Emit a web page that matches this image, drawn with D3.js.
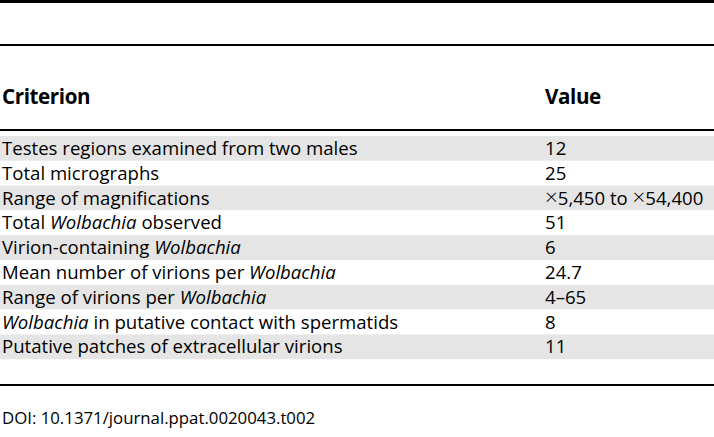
<!DOCTYPE html>
<html>
<head>
<meta charset="utf-8">
<script src="https://cdn.jsdelivr.net/npm/d3@7"></script>
<style>
  html, body { margin: 0; padding: 0; background: #fff; }
  svg { display: block; }
</style>
</head>
<body>
<svg id="chart" width="714" height="437"></svg>
<script>
// ---- data ----
const headers = ["Criterion", "Value"];
const criteria = [
  "Testes regions examined from two males",
  "Total micrographs",
  "Range of magnifications",
  "Total *Wolbachia* observed",
  "Virion-containing *Wolbachia*",
  "Mean number of virions per *Wolbachia*",
  "Range of virions per *Wolbachia*",
  "*Wolbachia* in putative contact with spermatids",
  "Putative patches of extracellular virions"
];
const values = ["12", "25", "\u00D75,450 to \u00D754,400", "51", "6", "24.7", "4\u201365", "8", "11"];
const footnote = "DOI: 10.1371/journal.ppat.0020043.t002";

// ---- layout ----
const W = 714;
const fontFam = "'Open Sans', sans-serif";
const fs = 18.6;
const fsHead = 20.6;
const fsFoot = 16.8;
const rowTop = 136, rowH = 24.8;
const colX = [2, 545];

const svg = d3.select("#chart");

const y = d3.scaleBand()
  .domain(d3.range(criteria.length))
  .range([rowTop, rowTop + rowH * criteria.length])
  .padding(0);

// row backgrounds
svg.append("g").selectAll("rect")
  .data(criteria)
  .join("rect")
  .attr("x", 0)
  .attr("y", (d, i) => y(i))
  .attr("width", W)
  .attr("height", y.bandwidth())
  .attr("fill", (d, i) => i % 2 === 0 ? "#e5e5e5" : "#ffffff");

// rules
const rules = [{y: 1.5, w: 3}, {y: 45, w: 2}, {y: 130, w: 2}, {y: 385, w: 2}];
svg.append("g").selectAll("line")
  .data(rules)
  .join("line")
  .attr("x1", 0).attr("x2", W)
  .attr("y1", d => d.y).attr("y2", d => d.y)
  .attr("stroke", "#000")
  .attr("stroke-width", d => d.w);

// header
svg.append("g").selectAll("text")
  .data(headers)
  .join("text")
  .attr("x", (d, i) => colX[i])
  .attr("y", 104)
  .attr("font-family", fontFam)
  .attr("font-size", fsHead)
  .attr("font-weight", "bold")
  .attr("letter-spacing", "-0.4")
  .attr("fill", "#000")
  .text(d => d);

// criteria with italic parts
const crit = svg.append("g").selectAll("text")
  .data(criteria)
  .join("text")
  .attr("x", colX[0])
  .attr("y", (d, i) => y(i) + y.bandwidth() / 2)
  .attr("dy", "0.36em")
  .attr("font-family", fontFam)
  .attr("font-size", fs)
  .attr("fill", "#000");
crit.each(function(d) {
  const parts = d.split("*");
  const t = d3.select(this);
  parts.forEach((p, k) => {
    if (!p) return;
    t.append("tspan")
      .attr("font-style", k % 2 === 1 ? "italic" : "normal")
      .text(p);
  });
});

// values (multiplication signs drawn a bit larger, as in the reference)
const vals = svg.append("g").selectAll("text")
  .data(values)
  .join("text")
  .attr("x", colX[1])
  .attr("y", (d, i) => y(i) + y.bandwidth() / 2)
  .attr("dy", "0.36em")
  .attr("font-family", fontFam)
  .attr("font-size", fs)
  .attr("fill", "#000");
vals.each(function(d) {
  const t = d3.select(this);
  d.split(/(\u00D7)/).forEach(p => {
    if (!p) return;
    const s = t.append("tspan").text(p);
    if (p === "\u00D7") s.attr("font-size", fs * 1.2).attr("font-weight", "300");
  });
});

// footnote
svg.append("text")
  .attr("x", colX[0])
  .attr("y", 424)
  .attr("font-family", fontFam)
  .attr("font-size", fsFoot)
  .attr("fill", "#000")
  .text(footnote);
</script>
</body>
</html>
